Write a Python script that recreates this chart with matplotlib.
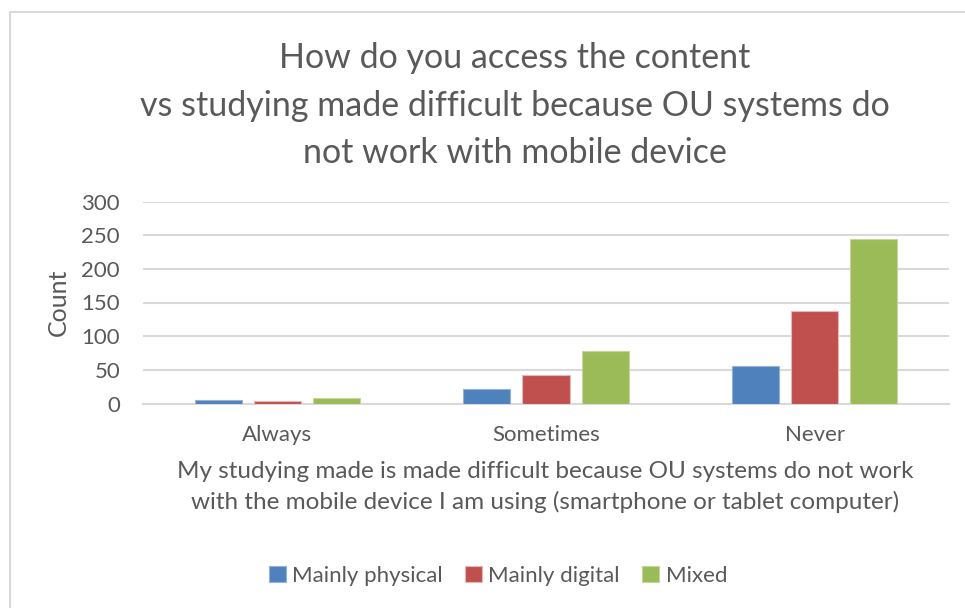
import matplotlib.pyplot as plt
import numpy as np
from matplotlib.patches import Rectangle

# answers on the x axis, one group of bars per answer
categories = ['Always', 'Sometimes', 'Never']
series = ['Mainly physical', 'Mainly digital', 'Mixed']
physical = [5, 21, 55]
digital = [3, 43, 138]
mixed = [8, 78, 244]
colors = ['#4F81BD', '#C0504D', '#9BBB59']
edges = ['#95B3D7', '#E6B9B8', '#C3D69B']
yticks = [0, 50, 100, 150, 200, 250, 300]

W, H = 965, 608
plt.rcParams['font.family'] = ['Lato', 'DejaVu Sans']
txt = '#595959'
grid = '#D9D9D9'

fig = plt.figure(figsize=(W / 100, H / 100), dpi=100)
# outer chart frame, runs off the right and bottom edge
fig.patches.append(Rectangle((10 / W, 0 - 0.1), 1.2, 1 - 12 / H + 0.1, transform=fig.transFigure,
                             fill=False, edgecolor=grid, lw=1.5))

ax = fig.add_axes([143 / W, 1 - 403.5 / H, (949 - 143) / W, (403.5 - 201.5) / H])
x = np.arange(len(categories))
w = 0.175
step = 0.22
for i, (vals, name) in enumerate(zip([physical, digital, mixed], series)):
    ax.bar(x + (i - 1) * step, vals, w, color=colors[i], edgecolor=edges[i], lw=0.8,
           label=name, zorder=3)

ax.set_xlim(-0.5, 2.5)
ax.set_ylim(0, 300)
ax.set_yticks(yticks)
ax.set_xticks(x)
ax.set_xticklabels(categories)
ax.grid(axis='y', color=grid, lw=1.5, zorder=0)
for s in ['top', 'right', 'left']:
    ax.spines[s].set_visible(False)
ax.spines['bottom'].set_color(grid)
ax.spines['bottom'].set_linewidth(1.5)
ax.tick_params(axis='both', length=0, colors=txt, labelsize=16)
ax.tick_params(axis='y', pad=16.5)
ax.tick_params(axis='x', pad=15.5)
ax.set_ylabel('Count', color=txt, fontsize=18, labelpad=8)

fig.text(515 / W, 1 - 58 / H, 'How do you access the content', ha='center', va='center',
         fontsize=24.5, color=txt)
fig.text(515 / W, 1 - 106 / H, 'vs studying made difficult because OU systems do', ha='center',
         va='center', fontsize=24.5, color=txt)
fig.text(515 / W, 1 - 153 / H, 'not work with mobile device', ha='center', va='center',
         fontsize=24.5, color=txt)

fig.text(545 / W, 1 - 471 / H, 'My studying made is made difficult because OU systems do not work',
         ha='center', va='center', fontsize=17.5, color=txt)
fig.text(545 / W, 1 - 502 / H, 'with the mobile device I am using (smartphone or tablet computer)',
         ha='center', va='center', fontsize=17.5, color=txt)

leg = fig.legend(loc='center', bbox_to_anchor=(498 / W, 1 - 576 / H), ncol=3, frameon=False,
                 fontsize=16, handlelength=0.75, handleheight=0.75, handletextpad=0.3,
                 columnspacing=1.0)
for t in leg.get_texts():
    t.set_color(txt)

fig.savefig('out.png', dpi=100)
